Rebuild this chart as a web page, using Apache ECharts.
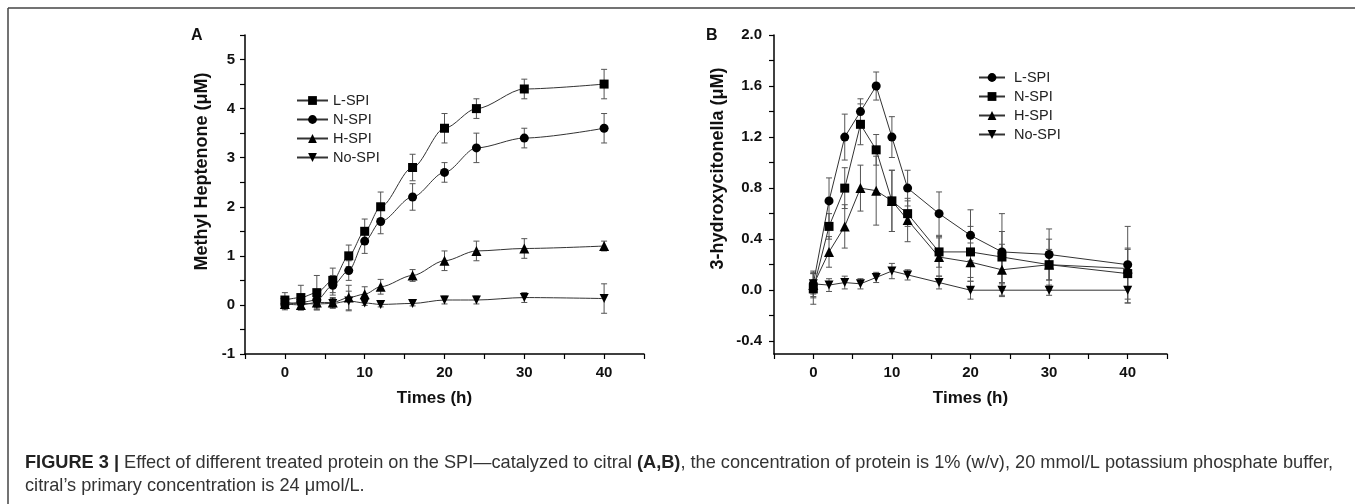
<!DOCTYPE html>
<html>
<head>
<meta charset="utf-8">
<script src="https://cdn.jsdelivr.net/npm/echarts@6/dist/echarts.min.js"></script>
<style>
html,body{margin:0;padding:0;background:#fff;}
#chart{width:1355px;height:504px;}
</style>
</head>
<body>
<div id="chart"></div>
<script>
// ---- Data ----
const times = [0, 2, 4, 6, 8, 10, 12, 16, 20, 24, 30, 40];

// Panel A: Methyl Heptenone (uM)
const aL = [0.1, 0.15, 0.25, 0.5, 1.0, 1.5, 2.0, 2.8, 3.6, 4.0, 4.4, 4.5];
const aLerr = [0.15, 0.25, 0.35, 0.25, 0.22, 0.25, 0.3, 0.27, 0.3, 0.2, 0.2, 0.3];
const aN = [0.0, 0.05, 0.1, 0.4, 0.7, 1.3, 1.7, 2.2, 2.7, 3.2, 3.4, 3.6];
const aNerr = [0.1, 0.15, 0.2, 0.2, 0.2, 0.25, 0.25, 0.27, 0.2, 0.3, 0.2, 0.3];
const aH = [0.02, 0.0, 0.05, 0.05, 0.15, 0.22, 0.37, 0.6, 0.9, 1.1, 1.15, 1.2];
const aHerr = [0.1, 0.1, 0.1, 0.1, 0.25, 0.15, 0.15, 0.12, 0.2, 0.2, 0.2, 0.1];
const aNo = [0.05, 0.03, 0.02, 0.03, 0.08, 0.04, 0.01, 0.03, 0.1, 0.1, 0.15, 0.13];
const aNoerr = [0.1, 0.1, 0.1, 0.1, 0.2, 0.05, 0.05, 0.05, 0.08, 0.08, 0.1, 0.3];

// Panel B: 3-hydroxycitonella (uM)
const bL = [0.05, 0.7, 1.2, 1.4, 1.6, 1.2, 0.8, 0.6, 0.43, 0.3, 0.28, 0.2];
const bLerr = [0.1, 0.18, 0.18, 0.1, 0.11, 0.16, 0.14, 0.17, 0.2, 0.3, 0.2, 0.3];
const bN = [0.01, 0.5, 0.8, 1.3, 1.1, 0.7, 0.6, 0.3, 0.3, 0.26, 0.2, 0.13];
const bNerr = [0.12, 0.1, 0.16, 0.16, 0.12, 0.24, 0.1, 0.12, 0.2, 0.2, 0.2, 0.2];
const bH = [0.04, 0.3, 0.5, 0.8, 0.78, 0.7, 0.55, 0.26, 0.22, 0.16, 0.2, 0.17];
const bHerr = [0.1, 0.12, 0.17, 0.18, 0.27, 0.24, 0.17, 0.15, 0.15, 0.2, 0.12, 0.15];
const bNo = [0.05, 0.04, 0.06, 0.05, 0.1, 0.15, 0.12, 0.06, 0.0, 0.0, 0.0, 0.0];
const bNoerr = [0.08, 0.05, 0.05, 0.04, 0.04, 0.06, 0.04, 0.05, 0.07, 0.05, 0.04, 0.1];

const seriesNames = ['L-SPI', 'N-SPI', 'H-SPI', 'No-SPI'];
const xTickLabels = [0, 10, 20, 30, 40];
const yTickLabelsB = [-0.4, 0.0, 0.4, 0.8, 1.2, 1.6, 2.0];
const yTicksB = [-0.4, -0.2, 0.0, 0.2, 0.4, 0.6, 0.8, 1.0, 1.2, 1.4, 1.6, 1.8, 2.0];

// ---- Helpers ----
const INK = '#111';
const LINE = '#333';
const FONT = '"Liberation Sans", Arial, sans-serif';
const downTri = 'path://M0,0 L10,0 L5,9 Z';

function pts(v) { return times.map((t, i) => [t, v[i]]); }
function errs(v, e) { return times.map((t, i) => [t, v[i] - e[i], v[i] + e[i]]); }

function errorSeries(v, e, gi) {
  return {
    type: 'custom',
    xAxisIndex: gi, yAxisIndex: gi,
    silent: true, z: 1,
    encode: { x: 0, y: [1, 2] },
    data: errs(v, e),
    renderItem: function (params, api) {
      const x = api.value(0);
      const top = api.coord([x, api.value(2)]);
      const bot = api.coord([x, api.value(1)]);
      const w = 3;
      const st = { stroke: '#555', lineWidth: 1 };
      return {
        type: 'group',
        children: [
          { type: 'line', shape: { x1: top[0], y1: top[1], x2: bot[0], y2: bot[1] }, style: st },
          { type: 'line', shape: { x1: top[0] - w, y1: top[1], x2: top[0] + w, y2: top[1] }, style: st },
          { type: 'line', shape: { x1: bot[0] - w, y1: bot[1], x2: bot[0] + w, y2: bot[1] }, style: st }
        ]
      };
    }
  };
}

function lineSeries(name, v, symbol, gi, smooth) {
  return {
    type: 'line', name: name,
    xAxisIndex: gi, yAxisIndex: gi,
    data: pts(v), z: 3,
    symbol: symbol, symbolSize: symbol === 'triangle' ? 10 : 9,
    showAllSymbol: true,
    smooth: smooth, smoothMonotone: 'x',
    lineStyle: { color: LINE, width: 1 },
    itemStyle: { color: '#000', borderWidth: 0 },
    emphasis: { disabled: true },
    animation: false
  };
}

const tickLabelStyle = { color: INK, fontSize: 15, fontWeight: 'bold', fontFamily: FONT };
const nameStyle = { color: INK, fontSize: 18, fontWeight: 'bold', fontFamily: FONT };
const axisLine = { show: true, onZero: false, lineStyle: { color: '#000', width: 1.5 } };
const axisTick = { show: true, length: 5, lineStyle: { color: '#000', width: 1.2 } };
const legendText = { color: '#222', fontSize: 14.5, fontFamily: FONT, padding: [0, 0, 0, 0] };

const option = {
  backgroundColor: '#fff',
  animation: false,
  grid: [
    { left: 245, top: 35, width: 399, height: 319 },
    { left: 774, top: 35, width: 393, height: 319 }
  ],
  xAxis: [
    {
      type: 'value', gridIndex: 0, min: -5, max: 45, interval: 5,
      name: 'Times (h)', nameLocation: 'middle', nameGap: 36,
      nameTextStyle: Object.assign({}, nameStyle, { fontSize: 17, padding: [0, 20, 0, 0] }),
      axisLine: axisLine, axisTick: axisTick, splitLine: { show: false },
      axisLabel: Object.assign({}, tickLabelStyle, {
        margin: 11,
        formatter: v => (xTickLabels.indexOf(v) >= 0 ? String(v) : '')
      })
    },
    {
      type: 'value', gridIndex: 1, min: -5, max: 45, interval: 5,
      name: 'Times (h)', nameLocation: 'middle', nameGap: 36,
      nameTextStyle: Object.assign({}, nameStyle, { fontSize: 17 }),
      axisLine: axisLine, axisTick: axisTick, splitLine: { show: false },
      axisLabel: Object.assign({}, tickLabelStyle, {
        margin: 11,
        formatter: v => (xTickLabels.indexOf(v) >= 0 ? String(v) : '')
      })
    }
  ],
  yAxis: [
    {
      type: 'value', gridIndex: 0, min: -1, max: 5.5, interval: 0.5,
      name: 'Methyl Heptenone (μM)', nameLocation: 'middle', nameGap: 34,
      nameTextStyle: Object.assign({}, nameStyle, { padding: [0, 0, 0, 46] }),
      axisLine: axisLine, axisTick: axisTick, splitLine: { show: false },
      axisLabel: Object.assign({}, tickLabelStyle, {
        margin: 10,
        formatter: v => (Number.isInteger(v) ? String(v) : '')
      })
    },
    {
      type: 'value', gridIndex: 1, min: -0.5, max: 2.0,
      name: '3-hydroxycitonella (μM)', nameLocation: 'middle', nameGap: 47,
      nameTextStyle: Object.assign({}, nameStyle, { padding: [0, 0, 0, 52] }),
      axisLine: axisLine,
      axisTick: Object.assign({}, axisTick, { customValues: yTicksB }),
      splitLine: { show: false },
      axisLabel: Object.assign({}, tickLabelStyle, {
        margin: 12,
        customValues: yTickLabelsB,
        formatter: v => v.toFixed(1)
      })
    }
  ],
  legend: [
    {
      left: 291, top: 88, orient: 'vertical',
      itemWidth: 31, itemHeight: 11, itemGap: 4,
      data: seriesNames,
      textStyle: legendText,
      selectedMode: false
    },
    {
      left: 973, top: 65, orient: 'vertical',
      itemWidth: 26, itemHeight: 11, itemGap: 4,
      data: seriesNames.map(n => n + ' '),
      formatter: n => n.trim(),
      textStyle: Object.assign({}, legendText, { padding: [0, 0, 0, 4] }),
      selectedMode: false
    }
  ],
  series: [
    errorSeries(aL, aLerr, 0), errorSeries(aN, aNerr, 0),
    errorSeries(aH, aHerr, 0), errorSeries(aNo, aNoerr, 0),
    lineSeries('L-SPI', aL, 'rect', 0, 0.3),
    lineSeries('N-SPI', aN, 'circle', 0, 0.3),
    lineSeries('H-SPI', aH, 'triangle', 0, 0.3),
    lineSeries('No-SPI', aNo, downTri, 0, 0.3),
    errorSeries(bL, bLerr, 1), errorSeries(bN, bNerr, 1),
    errorSeries(bH, bHerr, 1), errorSeries(bNo, bNoerr, 1),
    lineSeries('L-SPI ', bL, 'circle', 1, false),
    lineSeries('N-SPI ', bN, 'rect', 1, false),
    lineSeries('H-SPI ', bH, 'triangle', 1, false),
    lineSeries('No-SPI ', bNo, downTri, 1, false)
  ],
  graphic: [
    { type: 'line', shape: { x1: 8, y1: 8, x2: 1355, y2: 8 }, style: { stroke: '#444', lineWidth: 1.5 } },
    { type: 'line', shape: { x1: 8, y1: 8, x2: 8, y2: 504 }, style: { stroke: '#444', lineWidth: 1.5 } },
    { type: 'text', left: 191, top: 28, style: { text: 'A', fill: INK, font: 'bold 16px ' + FONT } },
    { type: 'text', left: 706, top: 28, style: { text: 'B', fill: INK, font: 'bold 16px ' + FONT } },
    {
      type: 'text', left: 25, top: 454,
      style: {
        text: '{b|FIGURE 3 |} Effect of different treated protein on the SPI\u2014catalyzed to citral {b|(A,B)}, the concentration of protein is 1% (w/v), 20 mmol/L potassium phosphate buffer,',
        fill: '#333', fontSize: 18.2, fontFamily: FONT,
        rich: { b: { fontWeight: 'bold', fill: '#222', fontSize: 18.2, fontFamily: FONT } }
      }
    },
    {
      type: 'text', left: 25, top: 477,
      style: { text: 'citral\u2019s primary concentration is 24 \u03bcmol/L.', fill: '#333', fontSize: 18.2, fontFamily: FONT }
    }
  ]
};

const chart = echarts.init(document.getElementById('chart'), null, { renderer: 'canvas' });
chart.setOption(option);
</script>
</body>
</html>
